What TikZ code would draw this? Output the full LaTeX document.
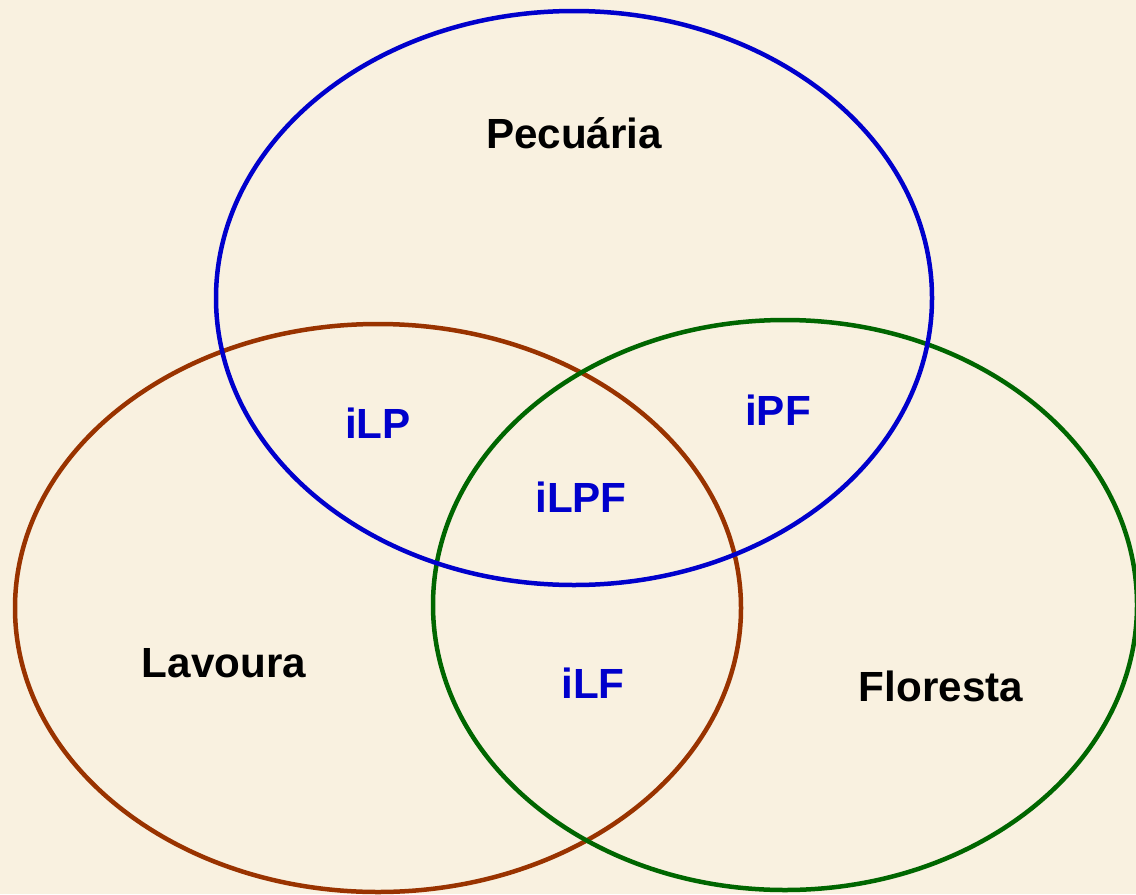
\documentclass[tikz,border=0pt]{standalone}
\usepackage{fontspec}
\setmainfont{Liberation Sans}
\definecolor{fundo}{RGB}{249,241,224}
\definecolor{azul}{RGB}{0,0,204}
\definecolor{marrom}{RGB}{153,51,0}
\definecolor{verde}{RGB}{0,102,0}
\begin{document}
\begin{tikzpicture}[x=0.025cm,y=-0.025cm,
  conj/.style={line width=3.2pt},
  nome/.style={font=\bfseries\fontsize{30}{33}\selectfont,text=black},
  inter/.style={font=\bfseries\fontsize{30}{33}\selectfont,text=azul}]
 \fill[fundo](0,0) rectangle (1136,894);
 \useasboundingbox (0,0) rectangle (1136,894);
 \draw[conj,marrom](378,608) ellipse [x radius=363,y radius=284];
 \draw[conj,verde](785,605) ellipse [x radius=352,y radius=285];
 \draw[conj,azul](574,298) ellipse [x radius=358,y radius=287];
 \node[nome](pec) at (574,133) {Pecuária};
 \node[nome](lav) at (224,663) {Lavoura};
 \node[nome](flo) at (941,686) {Floresta};
 \node[inter](ilp) at (378,423) {iLP};
 \node[inter](ipf) at (778,410) {iPF};
 \node[inter](ilpf) at (581,497) {iLPF};
 \node[inter](ilf) at (593,683) {iLF};
\end{tikzpicture}
\end{document}
